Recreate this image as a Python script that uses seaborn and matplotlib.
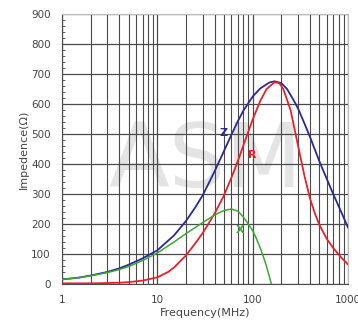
import seaborn as sns
import matplotlib.pyplot as plt
from matplotlib.ticker import LogLocator, FixedLocator, MultipleLocator, NullFormatter

# Z curve (blue)
z_freq = [1, 1.5, 2, 3, 4, 5, 7, 10, 15, 20, 25, 30, 40, 50, 60, 70, 80, 100, 120, 150,
          170, 200, 230, 270, 300, 350, 400, 500, 600, 700, 850, 1000]
z_val = [15, 21, 28, 40, 52, 64, 85, 112, 162, 210, 255, 296, 376, 443, 498, 543, 578, 625, 652, 672,
         676, 670, 650, 612, 585, 535, 490, 410, 350, 300, 240, 188]

# R curve (red)
r_freq = [1, 2, 3, 4, 5, 7, 10, 13, 15, 20, 25, 30, 40, 50, 60, 70, 80, 100, 120, 140,
          170, 190, 210, 250, 300, 350, 400, 450, 500, 600, 700, 850, 1000]
r_val = [2, 2, 3, 4, 6, 11, 22, 40, 55, 95, 135, 170, 235, 295, 355, 410, 462, 548, 610, 650,
         673, 670, 650, 580, 460, 360, 285, 235, 198, 150, 120, 88, 65]

# X curve (green)
x_freq = [1, 1.5, 2, 3, 4, 5, 7, 10, 15, 20, 25, 30, 40, 50, 60, 70, 80, 90, 100, 110,
          120, 130, 140, 150, 157]
x_val = [15, 21, 27, 38, 48, 58, 78, 103, 140, 168, 188, 205, 230, 245, 250, 243, 223, 200, 178, 150,
         120, 90, 58, 24, 0]

x_ticks = [1, 10, 100, 1000]
y_ticks = list(range(0, 1000, 100))

sns.set_style("white")
fig = plt.figure(figsize=(3.58, 3.29), dpi=100)
ax = fig.add_axes([0.173, 0.137, 0.799, 0.82])

grid_c = "#4a4a4a"
ax.set_xscale("log")
ax.set_xlim(1, 1000)
ax.set_ylim(0, 900)

# faint watermark
ax.text(0.5, 0.45, "ASM", transform=ax.transAxes, fontsize=64, color="#e4e4e4",
        ha="center", va="center", zorder=0)

sns.lineplot(x=z_freq, y=z_val, color="#2a2a96", lw=1.3, ax=ax, zorder=3)
sns.lineplot(x=r_freq, y=r_val, color="#e8202a", lw=1.3, ax=ax, zorder=3)
sns.lineplot(x=x_freq, y=x_val, color="#3aa832", lw=1.1, ax=ax, zorder=3)

ax.text(50, 505, "Z", color="#2a2a96", fontsize=8, fontweight="bold", ha="center", va="center", zorder=4)
ax.text(100, 430, "R", color="#e8202a", fontsize=8, fontweight="bold", ha="center", va="center", zorder=4)
ax.text(74, 180, "X", color="#3aa832", fontsize=8, fontweight="bold", ha="center", va="center", zorder=4)

ax.xaxis.set_major_locator(FixedLocator(x_ticks))
ax.set_xticklabels([str(t) for t in x_ticks])
ax.xaxis.set_minor_locator(LogLocator(base=10, subs=range(2, 10)))
ax.xaxis.set_minor_formatter(NullFormatter())
ax.set_yticks(y_ticks)
ax.yaxis.set_minor_locator(MultipleLocator(20))

ax.grid(True, which="major", axis="both", color=grid_c, lw=0.9)
ax.grid(True, which="minor", axis="x", color=grid_c, lw=0.8)

ax.tick_params(axis="both", which="major", labelsize=7.5, labelcolor="#444444", length=0, pad=8)
ax.tick_params(axis="y", which="minor", left=True, length=2, width=0.6, color="#444444", direction="in")
ax.tick_params(axis="x", which="minor", bottom=True, length=3, width=0.6, color="#444444", direction="in")

for s in ["top", "right"]:
    ax.spines[s].set_color("#bbbbbb")
for s in ["left", "bottom"]:
    ax.spines[s].set_color(grid_c)

ax.set_xlabel("Frequency(MHz)", fontsize=8, color="#444444", labelpad=2)
ax.set_ylabel("Impedence(Ω)", fontsize=8, color="#444444", labelpad=2)

fig.savefig("out.png", dpi=100)
